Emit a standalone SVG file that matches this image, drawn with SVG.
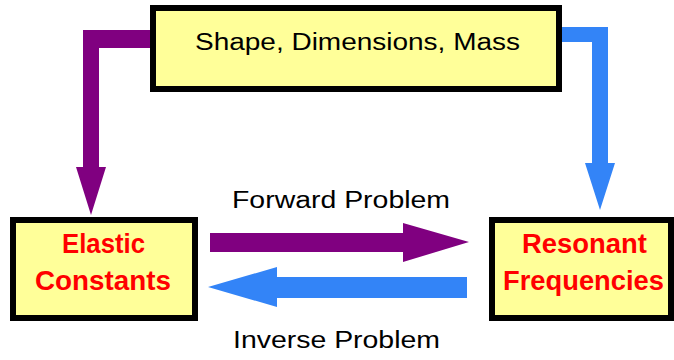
<svg xmlns="http://www.w3.org/2000/svg" width="674" height="360" viewBox="0 0 674 360">
  <style>
    .box { fill: #FFFF99; stroke: #000000; stroke-width: 6; }
    .lbl { font-family: "Liberation Sans", Arial, sans-serif; font-size: 23px; fill: #000000; text-anchor: middle; }
    .key { font-family: "Liberation Sans", Arial, sans-serif; font-size: 27px; font-weight: bold; fill: #FF0000; text-anchor: middle; }
    .purple { fill: #800080; }
    .blue { fill: #3384F7; }
  </style>
  <rect width="674" height="360" fill="#FFFFFF"/>
  <g id="connectors">
    <path class="purple" d="M152,30 H83 V167 H76 L91,215 L106,167 H99 V48 H152 Z"/>
    <path class="blue" d="M560,27 H608 V163 H615 L600,210 L585,163 H592 V42 H560 Z"/>
    <path class="purple" d="M210,233 H403 V223 L469,242 L403,262 V252 H210 Z"/>
    <path class="blue" d="M467,277 H277 V267 L208,287 L277,307 V298 H467 Z"/>
    <text class="lbl" x="341" y="208" textLength="218" lengthAdjust="spacingAndGlyphs">Forward Problem</text>
    <text class="lbl" x="336.5" y="348" textLength="207" lengthAdjust="spacingAndGlyphs">Inverse Problem</text>
  </g>
  <g id="shape">
    <rect class="box" x="153" y="8" width="406" height="81"/>
    <text class="lbl" x="357.5" y="50" font-size="27" textLength="325" lengthAdjust="spacingAndGlyphs">Shape, Dimensions, Mass</text>
  </g>
  <g id="elastic">
    <rect class="box" x="13" y="220" width="182" height="98"/>
    <text class="key" x="103.5" y="253" textLength="83" lengthAdjust="spacingAndGlyphs">Elastic</text>
    <text class="key" x="103" y="290" textLength="136" lengthAdjust="spacingAndGlyphs">Constants</text>
  </g>
  <g id="resonant">
    <rect class="box" x="492" y="220" width="179" height="98"/>
    <text class="key" x="584.5" y="253" textLength="125" lengthAdjust="spacingAndGlyphs">Resonant</text>
    <text class="key" x="583.5" y="290" textLength="161" lengthAdjust="spacingAndGlyphs">Frequencies</text>
  </g>
</svg>
